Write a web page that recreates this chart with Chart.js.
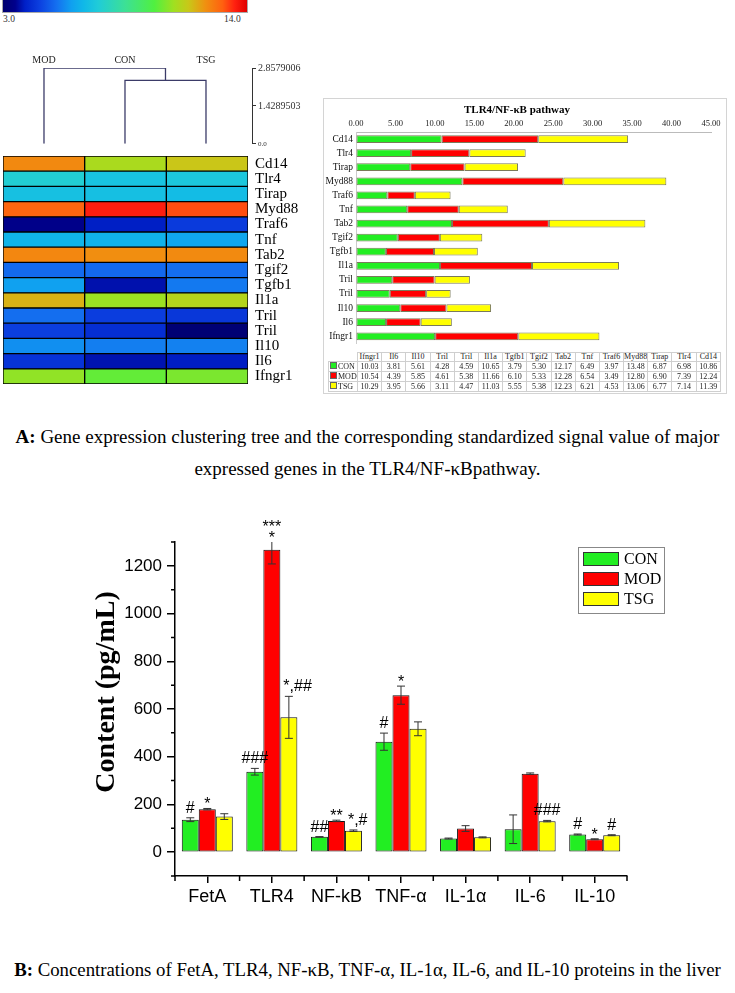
<!DOCTYPE html>
<html lang="en">
<head>
<meta charset="utf-8">
<title>TLR4/NF-κB pathway</title>
<script src="https://cdn.jsdelivr.net/npm/chart.js@4.4.1/dist/chart.umd.min.js"></script>
<style>
  body { margin: 0; background: #fff; }
  #pagina { position: relative; width: 735px; height: 993px; overflow: hidden;
            font-family: "Liberation Serif", "Times New Roman", serif; color: #000; }
  canvas, .abs { position: absolute; }
  #barraCor { left: 2px; top: 0; width: 244px; height: 12px; border: 1px solid #aaa; border-top: none; }
  .rotuloCor { top: 14px; font-size: 9.5px; color: #333; }
  #caixaPathway { left: 323px; top: 98px; width: 402px; height: 294px; border: 1px solid #d4d4d4; }
  #tabela { left: 328px; top: 352px; width: 393px; border-collapse: collapse; table-layout: fixed;
            font-size: 8px; color: #222; }
  #tabela td { border: 1px solid #cfcfcf; height: 8px; line-height: 8px; padding: 0;
               text-align: center; white-space: nowrap; overflow: hidden; }
  #tabela td.vazio { border: none; }
  #tabela td.serie { text-align: left; }
  .quadrado { display: inline-block; width: 5px; height: 5px; border: 1px solid #666; margin: 0 1px 0 1px; }
  .legenda { left: 0; width: 735px; text-align: center; font-size: 19px; line-height: 32px; }
  #legendaB { left: 578px; top: 547px; width: 85px; height: 65px; border: 1px solid #888; }
  .itemB { position: absolute; left: 4px; font-size: 16px; line-height: 14px; }
  .itemB span { display: inline-block; width: 34px; height: 12px; border: 1px solid #333;
                vertical-align: top; margin-right: 5px; }
</style>
</head>
<body>
<div id="pagina">
  <div id="barraCor" class="abs"></div>
  <div class="abs rotuloCor" id="rotuloMin" style="left:3px"></div>
  <div class="abs rotuloCor" id="rotuloMax" style="left:224px"></div>

  <canvas id="graficoDendro" width="320" height="100" style="left:0;top:50px"></canvas>
  <canvas id="graficoHeat" width="320" height="260" style="left:0;top:140px"></canvas>

  <div id="caixaPathway" class="abs"></div>
  <canvas id="graficoPathway" width="403" height="254" style="left:323px;top:98px"></canvas>
  <table id="tabela" class="abs"></table>

  <div class="abs legenda" style="top:421px"><b>A:</b> Gene expression clustering tree and the corresponding standardized signal value of major<br>expressed genes in the TLR4/NF-κBpathway.</div>

  <canvas id="graficoConteudo" width="735" height="420" style="left:0;top:500px"></canvas>
  <div id="legendaB" class="abs"></div>

  <div class="abs legenda" style="top:954px;font-size:18.8px"><b>B:</b> Concentrations of FetA, TLR4, NF-κB, TNF-α, IL-1α, IL-6, and IL-10 proteins in the liver</div>
</div>

<script>
/* dados do painel A */
var gruposHeat = ["MOD", "CON", "TSG"];
var genes = ["Cd14", "Tlr4", "Tirap", "Myd88", "Traf6", "Tnf", "Tab2", "Tgif2", "Tgfb1", "Il1a", "Tril", "Tril", "Il10", "Il6", "Ifngr1"];
var sinalCON = [10.86, 6.98, 6.87, 13.48, 3.97, 6.49, 12.17, 5.30, 3.79, 10.65, 4.59, 4.28, 5.61, 3.81, 10.03];
var sinalMOD = [12.24, 7.39, 6.90, 12.80, 3.49, 6.54, 12.28, 5.33, 6.10, 11.66, 5.38, 4.61, 5.85, 4.39, 10.54];
var sinalTSG = [11.39, 7.14, 6.77, 13.06, 4.53, 6.21, 12.23, 5.38, 5.55, 11.03, 4.47, 3.11, 5.66, 3.95, 10.29];
var escalaCor = [3.0, 14.0];

// alturas da arvore: CON+TSG primeiro, depois MOD
var alturasFusao = [2.39, 2.8579006];
var ticksDendro = [0.0, 1.4289503, 2.8579006];

var seriesPathway = ["CON", "MOD", "TSG"];
var ticksPathway = [0, 5, 10, 15, 20, 25, 30, 35, 40, 45];

/* dados do painel B */
var proteinas = ["FetA", "TLR4", "NF-kB", "TNF-α", "IL-1α", "IL-6", "IL-10"];
var conteudoCON = [136, 337, 64, 463, 57, 96, 74];
var conteudoMOD = [180, 1268, 131, 658, 99, 329, 54];
var conteudoTSG = [149, 565, 90, 517, 62, 130, 71];
var erroCON = [8, 14, 1, 36, 2, 60, 2];
var erroMOD = [3, 60, 3, 38, 12, 3, 2];
var erroTSG = [12, 88, 3, 29, 2, 3, 2];
var ticksConteudo = [0, 200, 400, 600, 800, 1000, 1200];
var faixaConteudo = [-100, 1300];
var tituloConteudo = "Content (pg/mL)";
// [proteina, serie, texto]
var marcas = [
    [0, 0, "#"], [0, 1, "*"],
    [1, 0, "###"], [1, 1, "***\n*"], [1, 2, "*,##"],
    [2, 0, "##"], [2, 1, "**"], [2, 2, "*,#"],
    [3, 0, "#"], [3, 1, "*"],
    [5, 2, "###"],
    [6, 0, "#"], [6, 1, "*"], [6, 2, "#"]
];

var coresSerie = { CON: "#22ee22", MOD: "#ff0000", TSG: "#ffff00" };
var sinalPorGrupo = { CON: sinalCON, MOD: sinalMOD, TSG: sinalTSG };
var conteudoPorGrupo = { CON: conteudoCON, MOD: conteudoMOD, TSG: conteudoTSG };
var erros = [erroCON, erroMOD, erroTSG];

Chart.defaults.font.family = "'Liberation Serif', serif";
Chart.defaults.color = "#000";

/* mapa de cores tipo jet, ajustado ao heatmap */
var paradas = [
    [0.00, 0, 0, 110], [0.05, 0, 0, 140], [0.09, 0, 32, 200], [0.15, 12, 64, 224],
    [0.22, 20, 112, 240], [0.28, 16, 160, 240], [0.33, 16, 184, 232], [0.39, 32, 204, 216],
    [0.50, 60, 224, 150], [0.62, 80, 240, 64], [0.70, 160, 224, 32], [0.76, 200, 200, 24],
    [0.83, 240, 144, 16], [0.90, 255, 96, 16], [0.95, 255, 32, 16], [1.00, 224, 0, 0]
];

function corJet(v) {
    var t = (v - escalaCor[0]) / (escalaCor[1] - escalaCor[0]);
    t = Math.max(0, Math.min(1, t));
    for (var i = 1; i < paradas.length; i++) {
        if (t <= paradas[i][0]) {
            var a = paradas[i - 1], b = paradas[i];
            var f = (t - a[0]) / (b[0] - a[0]);
            var c = [1, 2, 3].map(function (k) { return Math.round(a[k] + (b[k] - a[k]) * f); });
            return "rgb(" + c.join(",") + ")";
        }
    }
    return "rgb(224,0,0)";
}

function montarBarraCor() {
    var passos = paradas.map(function (p) {
        return "rgb(" + p[1] + "," + p[2] + "," + p[3] + ") " + (p[0] * 100) + "%";
    });
    barraCor.style.background = "linear-gradient(to right," + passos.join(",") + ")";
    rotuloMin.textContent = escalaCor[0].toFixed(1);
    rotuloMax.textContent = escalaCor[1].toFixed(1);
}

function plotarDendrograma() {
    var h1 = alturasFusao[0], h2 = alturasFusao[1];
    var ramoInterno = [{ x: 1, y: 0 }, { x: 1, y: h1 }, { x: 2, y: h1 }, { x: 2, y: 0 }];
    var ramoExterno = [{ x: 0, y: 0 }, { x: 0, y: h2 }, { x: 1.5, y: h2 }, { x: 1.5, y: h1 }];

    var nomesFolhas = {
        id: "nomesFolhas",
        afterDraw: function (chart) {
            var ctx = chart.ctx;
            ctx.save();
            ctx.font = "10px 'Liberation Serif'";
            ctx.fillStyle = "#222";
            ctx.textAlign = "center";
            ctx.textBaseline = "middle";
            gruposHeat.forEach(function (g, i) {
                ctx.fillText(g, chart.scales.x.getPixelForValue(i), chart.chartArea.top - 8);
            });
            ctx.restore();
        }
    };

    new Chart(graficoDendro, {
        type: "scatter",
        data: {
            datasets: [ramoInterno, ramoExterno].map(function (r) {
                return { data: r, showLine: true, borderColor: "#3b3b68", borderWidth: 1.3, pointRadius: 0 };
            })
        },
        options: {
            responsive: false,
            animation: false,
            layout: { padding: { left: 3, top: 18, bottom: 4, right: 0 } },
            plugins: { legend: { display: false }, tooltip: { enabled: false } },
            scales: {
                x: { type: "linear", min: -0.506, max: 2.568, display: false },
                y: {
                    position: "right",
                    min: 0,
                    max: ticksDendro[ticksDendro.length - 1],
                    afterBuildTicks: function (eixo) {
                        eixo.ticks = ticksDendro.map(function (v) { return { value: v }; });
                    },
                    afterFit: function (eixo) { eixo.width = 68; },
                    grid: { drawOnChartArea: false, drawTicks: true, tickLength: 4, color: "#333" },
                    border: { display: true, color: "#333" },
                    ticks: {
                        padding: 2,
                        color: "#333",
                        font: function (c) {
                            return { family: "'Liberation Serif'", size: (c.tick && c.tick.value === 0) ? 7 : 10 };
                        },
                        callback: function (v) { return v === 0 ? "0.0" : String(v); }
                    }
                }
            }
        },
        plugins: [nomesFolhas]
    });
}

function plotarHeatmap() {
    new Chart(graficoHeat, {
        type: "bar",
        data: {
            labels: genes,
            datasets: gruposHeat.map(function (g) {
                return {
                    label: g,
                    data: genes.map(function () { return 1; }),
                    backgroundColor: sinalPorGrupo[g].map(corJet),
                    borderColor: "#000",
                    borderWidth: 1,
                    borderSkipped: false,
                    barPercentage: 1,
                    categoryPercentage: 1
                };
            })
        },
        options: {
            responsive: false,
            animation: false,
            indexAxis: "y",
            layout: { padding: { left: 3, top: 9, bottom: 7, right: 0 } },
            plugins: { legend: { display: false }, tooltip: { enabled: false } },
            scales: {
                x: { stacked: true, min: 0, max: gruposHeat.length, display: false },
                y: {
                    stacked: true,
                    position: "right",
                    afterFit: function (eixo) { eixo.width = 72; },
                    grid: { display: false, drawTicks: false },
                    border: { display: false },
                    ticks: { padding: 7, color: "#000", autoSkip: false, font: { size: 15 } }
                }
            }
        }
    });
}

function plotarPathway() {
    new Chart(graficoPathway, {
        type: "bar",
        data: {
            labels: genes,
            datasets: seriesPathway.map(function (s) {
                return {
                    label: s,
                    data: sinalPorGrupo[s],
                    backgroundColor: coresSerie[s],
                    borderColor: "#7a7a5a",
                    borderWidth: 1,
                    borderSkipped: false,
                    barPercentage: 0.55,
                    categoryPercentage: 1
                };
            })
        },
        options: {
            responsive: false,
            animation: false,
            indexAxis: "y",
            layout: { padding: { left: 0, right: 15, top: 0, bottom: 2 } },
            plugins: {
                legend: { display: false },
                tooltip: { enabled: false },
                title: {
                    display: true,
                    text: "TLR4/NF-κB pathway",
                    color: "#000",
                    font: { size: 11, weight: "bold" },
                    padding: { top: 6, bottom: 2 }
                }
            },
            scales: {
                x: {
                    position: "top",
                    stacked: true,
                    min: ticksPathway[0],
                    max: ticksPathway[ticksPathway.length - 1],
                    afterBuildTicks: function (eixo) {
                        eixo.ticks = ticksPathway.map(function (v) { return { value: v }; });
                    },
                    afterFit: function (eixo) { eixo.height = 12.8; },
                    grid: { drawOnChartArea: false, drawTicks: false },
                    border: { display: true, color: "#bbb" },
                    ticks: {
                        padding: 3, color: "#222", font: { size: 8.5 }, maxRotation: 0, autoSkip: false,
                        callback: function (v) { return Number(v).toFixed(2); }
                    }
                },
                y: {
                    stacked: true,
                    afterFit: function (eixo) { eixo.width = 33; },
                    grid: { drawOnChartArea: false, drawTicks: false },
                    border: { display: true, color: "#ccc" },
                    ticks: { padding: 3, color: "#111", autoSkip: false, font: { size: 9.5 } }
                }
            }
        }
    });
}

function montarTabela() {
    var ordem = genes.map(function (g, i) { return i; }).reverse();
    var html = "<colgroup><col style='width:29px'>";
    ordem.forEach(function () { html += "<col>"; });
    html += "</colgroup><tr><td class='vazio'></td>";
    ordem.forEach(function (i) { html += "<td>" + genes[i] + "</td>"; });
    html += "</tr>";
    seriesPathway.forEach(function (s) {
        html += "<tr><td class='serie'><span class='quadrado' style='background:" + coresSerie[s] + "'></span>" + s + "</td>";
        ordem.forEach(function (i) { html += "<td>" + sinalPorGrupo[s][i].toFixed(2) + "</td>"; });
        html += "</tr>";
    });
    tabela.innerHTML = html;
}

/* painel B */
var pluginErro = {
    id: "barrasErro",
    afterDatasetsDraw: function (chart) {
        var ctx = chart.ctx, eixoY = chart.scales.y, area = chart.chartArea;
        ctx.save();
        ctx.beginPath();
        ctx.rect(area.left, area.top, area.right - area.left, area.bottom - area.top);
        ctx.clip();
        ctx.strokeStyle = "#333";
        ctx.lineWidth = 1;
        chart.data.datasets.forEach(function (ds, i) {
            chart.getDatasetMeta(i).data.forEach(function (barra, k) {
                var v = ds.data[k], e = erros[i][k];
                var yAlto = eixoY.getPixelForValue(v + e), yBaixo = eixoY.getPixelForValue(v - e);
                ctx.beginPath();
                ctx.moveTo(barra.x, yAlto); ctx.lineTo(barra.x, yBaixo);
                ctx.moveTo(barra.x - 4, yAlto); ctx.lineTo(barra.x + 4, yAlto);
                ctx.moveTo(barra.x - 4, yBaixo); ctx.lineTo(barra.x + 4, yBaixo);
                ctx.stroke();
            });
        });
        ctx.restore();
    }
};

var pluginMarcas = {
    id: "marcas",
    afterDatasetsDraw: function (chart) {
        var ctx = chart.ctx, eixoY = chart.scales.y, area = chart.chartArea;
        ctx.save();
        ctx.fillStyle = "#000";
        ctx.font = "16px 'Liberation Sans'";
        ctx.textBaseline = "alphabetic";
        marcas.forEach(function (m) {
            var barra = chart.getDatasetMeta(m[1]).data[m[0]];
            var valor = chart.data.datasets[m[1]].data[m[0]] + erros[m[1]][m[0]];
            var topo = Math.max(eixoY.getPixelForValue(valor), area.top);
            var linhas = m[2].split("\n");
            var soAsterisco = /^\*+$/.test(linhas[linhas.length - 1]);
            var base = topo + (soAsterisco ? 1 : -5);
            var x = barra.x;
            ctx.textAlign = "center";
            if (m[2].indexOf(",") >= 0) {
                // rotulos compostos começam na borda esquerda da barra
                ctx.textAlign = "left";
                x = barra.x - barra.width / 2 + 3;
            }
            for (var i = linhas.length - 1; i >= 0; i--) {
                ctx.fillText(linhas[i], x, base);
                base -= 11;
            }
        });
        ctx.restore();
    }
};

var pluginTicksMenores = {
    id: "ticksMenores",
    afterDraw: function (chart) {
        var ctx = chart.ctx, eixoY = chart.scales.y, area = chart.chartArea;
        ctx.save();
        ctx.strokeStyle = "#000";
        ctx.lineWidth = 1.5;
        ctx.beginPath();
        for (var v = eixoY.min; v <= eixoY.max; v += 200) {
            var py = eixoY.getPixelForValue(v);
            ctx.moveTo(area.left - 4, py); ctx.lineTo(area.left, py);
        }
        var largura = (area.right - area.left) / proteinas.length;
        for (var i = 0; i <= proteinas.length; i++) {
            var px = area.left + i * largura;
            ctx.moveTo(px, area.bottom); ctx.lineTo(px, area.bottom + 5);
        }
        ctx.stroke();

        // titulo do eixo y
        ctx.translate(107, area.top + (area.bottom - area.top) / 2 - 17);
        ctx.rotate(-Math.PI / 2);
        ctx.font = "bold 28px 'Liberation Serif'";
        ctx.fillStyle = "#000";
        ctx.textAlign = "center";
        ctx.textBaseline = "middle";
        ctx.fillText(tituloConteudo, 0, 0);
        ctx.restore();
    }
};

function plotarConteudo() {
    new Chart(graficoConteudo, {
        type: "bar",
        data: {
            labels: proteinas,
            datasets: seriesPathway.map(function (s) {
                return {
                    label: s,
                    data: conteudoPorGrupo[s],
                    backgroundColor: coresSerie[s],
                    borderColor: "#111",
                    borderWidth: 1,
                    borderSkipped: false,
                    barPercentage: 1,
                    categoryPercentage: 0.79
                };
            })
        },
        options: {
            responsive: false,
            animation: false,
            layout: { padding: { left: 75, right: 108, top: 42, bottom: 8 } },
            plugins: { legend: { display: false }, tooltip: { enabled: false } },
            scales: {
                x: {
                    afterFit: function (eixo) { eixo.height = 36; },
                    grid: { offset: false, drawOnChartArea: false, drawTicks: true, tickLength: 7, color: "#000", lineWidth: 1.5 },
                    border: { display: true, color: "#000", width: 1.5 },
                    ticks: { padding: 3, color: "#000", maxRotation: 0, autoSkip: false,
                             font: { family: "'Liberation Sans'", size: 18 } }
                },
                y: {
                    min: faixaConteudo[0],
                    max: faixaConteudo[1],
                    afterBuildTicks: function (eixo) {
                        eixo.ticks = ticksConteudo.map(function (v) { return { value: v }; });
                    },
                    afterFit: function (eixo) { eixo.width = 100; },
                    grid: { drawOnChartArea: false, drawTicks: true, tickLength: 8, color: "#000", lineWidth: 1.5 },
                    border: { display: true, color: "#000", width: 1.5 },
                    ticks: { padding: 5, color: "#000", font: { family: "'Liberation Sans'", size: 17 },
                             callback: function (v) { return String(v); } }
                }
            }
        },
        plugins: [pluginErro, pluginMarcas, pluginTicksMenores]
    });
}

function montarLegendaB() {
    var html = "";
    seriesPathway.forEach(function (s, i) {
        html += "<div class='itemB' style='top:" + (4 + i * 20) + "px'><span style='background:" + coresSerie[s] + "'></span>" + s + "</div>";
    });
    legendaB.innerHTML = html;
}

montarBarraCor();
plotarDendrograma();
plotarHeatmap();
plotarPathway();
montarTabela();
plotarConteudo();
montarLegendaB();
</script>
</body>
</html>
